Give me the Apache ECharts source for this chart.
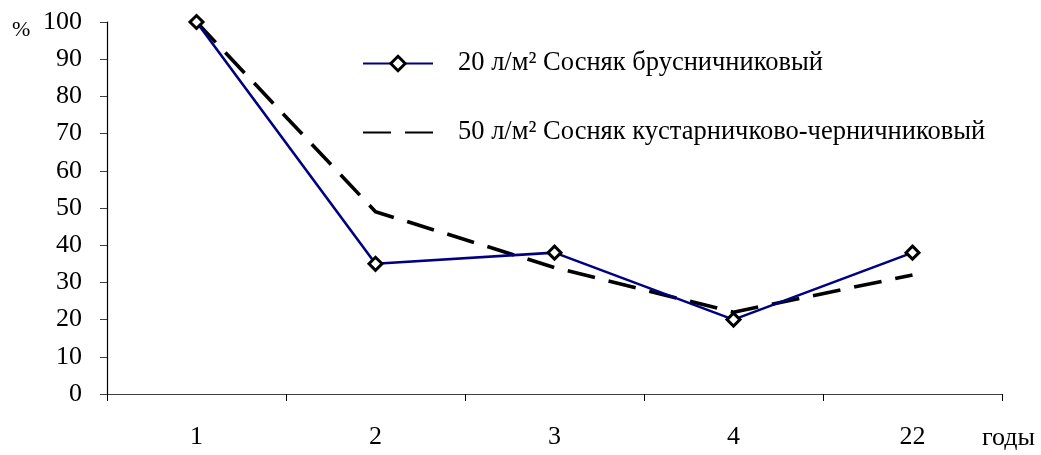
<!DOCTYPE html>
<html>
<head>
<meta charset="utf-8">
<style>
  html, body { margin: 0; padding: 0; background: #fff; }
  #chart { width: 1041px; height: 455px; }
</style>
<script src="https://cdn.jsdelivr.net/npm/echarts@6/dist/echarts.min.js"></script>
</head>
<body>
<div id="chart"></div>
<script>
// Years since treatment (category axis)
const years = ['1', '2', '3', '4', '22'];
// Share of initial value, %
const pineLingonberry = [100, 35, 38, 20, 38];   // 20 л/м² Сосняк брусничниковый
const pineShrubBilberry = [100, 49, 34, 22, 32]; // 50 л/м² Сосняк кустарничково-черничниковый
const seriesNames = [
  '20 л/м² Сосняк брусничниковый',
  '50 л/м² Сосняк кустарничково-черничниковый'
];
const yTicks = { min: 0, max: 100, interval: 10 };

const FONT = '"Liberation Serif", "DejaVu Serif", serif';

const chart = echarts.init(document.getElementById('chart'), null, { renderer: 'canvas' });

chart.setOption({
  backgroundColor: '#ffffff',
  animation: false,
  textStyle: { fontFamily: FONT, color: '#000' },
  grid: { left: 107, right: 39, top: 22, bottom: 61, containLabel: false },
  legend: {
    orient: 'vertical',
    left: 357,
    top: 45,
    itemWidth: 70,
    itemHeight: 18,
    itemGap: 42,
    itemStyle: { borderWidth: 3 },
    textStyle: { fontFamily: FONT, fontSize: 26.5, color: '#000', padding: [0, 0, 0, 20] },
    data: [
      { name: seriesNames[0] },
      { name: seriesNames[1], itemStyle: { opacity: 0 } }
    ]
  },
  xAxis: {
    type: 'category',
    data: years,
    boundaryGap: true,
    axisLine: { lineStyle: { color: '#404040', width: 1.2 } },
    axisTick: { show: true, inside: false, length: 7, alignWithLabel: false, lineStyle: { color: '#000' } },
    axisLabel: { margin: 30, fontFamily: FONT, fontSize: 26, color: '#000' },
    splitLine: { show: false }
  },
  yAxis: {
    type: 'value',
    min: yTicks.min,
    max: yTicks.max,
    interval: yTicks.interval,
    axisLine: { show: true, lineStyle: { color: '#000', width: 1.2 } },
    axisTick: { show: true, inside: false, length: 7, lineStyle: { color: '#404040' } },
    axisLabel: { margin: 25, fontFamily: FONT, fontSize: 26, color: '#000' },
    splitLine: { show: false }
  },
  graphic: [
    { type: 'text', left: 12, top: 19, style: { text: '%', font: '22px ' + FONT, fill: '#000' } },
    { type: 'text', left: 982, top: 425, style: { text: 'годы', font: '26px ' + FONT, fill: '#000' } }
  ],
  series: [
    {
      name: seriesNames[0],
      type: 'line',
      data: pineLingonberry,
      z: 3,
      lineStyle: { color: '#000080', width: 2.6 },
      itemStyle: { color: '#fff', borderColor: '#000', borderWidth: 3 },
      symbol: 'diamond',
      symbolSize: 13,
      showAllSymbol: true
    },
    {
      name: seriesNames[1],
      type: 'line',
      data: pineShrubBilberry,
      z: 2,
      lineStyle: { color: '#000', width: 3.6, type: [28, 14] },
      itemStyle: { color: '#000' },
      symbol: 'none'
    }
  ]
});
</script>
</body>
</html>
